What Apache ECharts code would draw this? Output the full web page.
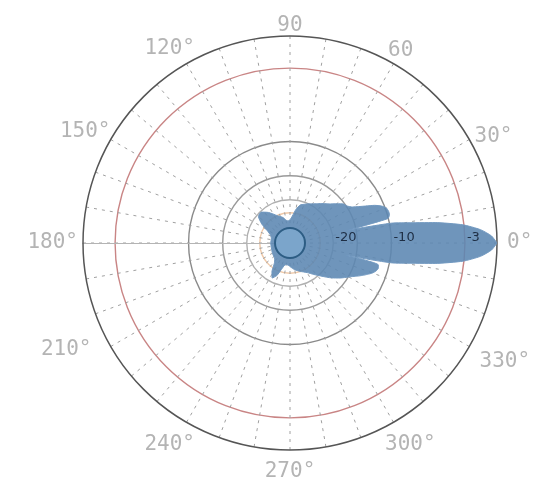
<!DOCTYPE html>
<html>
<head>
<meta charset="utf-8">
<script src="https://cdn.jsdelivr.net/npm/echarts@6/dist/echarts.min.js"></script>
<style>
  html, body { margin: 0; padding: 0; background: #ffffff; }
  #chart { width: 538px; height: 485px; }
</style>
</head>
<body>
<div id="chart"></div>
<script>
// Radiation pattern: bearing (degrees) and relative gain (dB)
const bearings = [0, 2, 4, 6, 8, 10, 11, 12.5, 14, 16, 18, 20, 22, 24, 26, 28, 30, 33, 36, 40, 45, 50, 55, 60, 65, 70, 75, 80, 85, 90, 95, 100, 105, 115, 125, 133, 140, 146, 152, 158, 165, 180, 195, 210, 220, 226, 232, 238, 243, 248, 253, 258, 265, 272, 280, 290, 300, 307, 313, 320, 325, 330, 332, 334, 336, 338, 340, 342, 344, 346, 347.5, 349, 350, 352, 354, 356, 358, 360];
const gainDb = [0, -0.5, -1.5, -3.1, -5.7, -8.6, -9.7, -16.5, -10.1, -9.8, -9.8, -9.9, -10.4, -11.3, -12.5, -13.5, -14.3, -14.9, -15.2, -16.3, -17.5, -18.3, -19.0, -19.6, -20.0, -20.8, -21.5, -23.5, -26.2, -27.7, -28.1, -27.7, -26.5, -25.0, -22.3, -20.4, -20.8, -23.5, -26.9, -28.5, -29.2, -29.2, -29.2, -28.8, -28.5, -28.1, -26.9, -23.5, -21.5, -23.1, -26.5, -28.1, -28.1, -27.3, -26.2, -25.0, -23.5, -21.5, -19.6, -17.7, -16.3, -14.9, -14.4, -13.8, -13.2, -12.6, -12.0, -11.6, -11.4, -11.5, -16.9, -9.7, -8.6, -5.7, -3.1, -1.5, -0.5, 0];

// Reference circles (dB) and the ones that carry a label
const ringLevels = [-25, -20, -15, -10, -3];
const ringLabelLevels = [-20, -10, -3];
const ringLabels = ['-20', '-10', '-3'];
const angleTickLabels = ['0°', '30°', '60', '90', '120°', '150°', '180°', '210°', '240°', '270°', '300°', '330°'];

// Compressed dB scale of the plot: dB knots and their share of the full radius
const scaleKnots = { db: [-40, -30, -20, -15, -10, -3, 0], r: [0, 0.083, 0.209, 0.325, 0.49, 0.845, 1] };
function toR(db) {
  const k = scaleKnots;
  if (db <= k.db[0]) return 0;
  if (db >= 0) return 1;
  for (let i = 1; i < k.db.length; i++) {
    if (db <= k.db[i]) {
      const t = (db - k.db[i - 1]) / (k.db[i] - k.db[i - 1]);
      return k.r[i - 1] + t * (k.r[i] - k.r[i - 1]);
    }
  }
  return 1;
}

const ringR = ringLevels.map(toR);
const labelR = ringLabelLevels.map(toR);
const CENTER = [290, 243];
const RADIUS = 207;

// Per-label padding [top, right, bottom, left] that nudges each bearing label into place
const anglePad = [
  [0, 0, 0, 27], [0, 0, 1, 20], [0, 0, 17, 3], [0, 0, 17, 0],
  [0, 0, 19, 0], [0, 15, 6, 0], [0, 22, 0, 0], [1, 34, 0, 0],
  [27, 0, 0, 0], [28, 0, 0, 0], [27, 0, 0, 0], [13, 0, 0, 25]
];
const angleFont = { color: '#b4b4b4', fontSize: 21, fontFamily: 'DejaVu Sans Mono' };
const angleRich = {};
anglePad.forEach((p, i) => { angleRich['a' + i] = Object.assign({ padding: p }, angleFont); });

const chart = echarts.init(document.getElementById('chart'), null, { renderer: 'canvas' });
const dash = { type: [3, 5], color: '#a0a0a0', width: 1 };

chart.setOption({
  animation: false,
  backgroundColor: '#ffffff',
  polar: [
    { center: CENTER, radius: RADIUS },
    { center: CENTER, radius: RADIUS },
    { center: CENTER, radius: RADIUS }
  ],
  angleAxis: [
    {
      polarIndex: 0, type: 'value', min: 0, max: 360, interval: 30,
      startAngle: 0, clockwise: false,
      axisLine: { lineStyle: { color: '#555555', width: 1.5 } },
      axisTick: { show: false },
      axisLabel: Object.assign({
        margin: -17,
        rich: angleRich,
        formatter: v => {
          const i = Math.round(v / 30);
          return i < angleTickLabels.length ? '{a' + i + '|' + angleTickLabels[i] + '}' : '';
        }
      }, angleFont),
      splitLine: { show: true, lineStyle: dash },
      minorTick: { show: false, splitNumber: 3 },
      minorSplitLine: { show: true, lineStyle: dash }
    },
    { polarIndex: 1, type: 'value', min: 0, max: 360, startAngle: 180, clockwise: false, show: false },
    { polarIndex: 2, type: 'value', min: 0, max: 360, startAngle: 0, clockwise: false, show: false }
  ],
  radiusAxis: [
    {
      polarIndex: 0, type: 'value', min: 0, max: 1,
      axisLine: { show: false },
      axisTick: { show: false, customValues: ringR },
      axisLabel: { show: false },
      splitLine: { show: true, lineStyle: { color: ['#f0c9a8', '#b0b0b0', '#999999', '#8a8a8a', '#c98585'], width: 1.4 } }
    },
    {
      polarIndex: 1, type: 'value', min: 0, max: 1,
      axisLine: { show: true, lineStyle: { color: '#b4b4b4', width: 1.2 } },
      axisTick: { show: false }, axisLabel: { show: false }, splitLine: { show: false }
    },
    {
      polarIndex: 2, type: 'value', min: 0, max: 1, z: 10,
      axisLine: { show: false }, axisTick: { show: false }, splitLine: { show: false },
      axisLabel: {
        customValues: labelR,
        formatter: v => {
          let best = 0;
          labelR.forEach((r, i) => { if (Math.abs(r - v) < Math.abs(labelR[best] - v)) best = i; });
          return ringLabels[best];
        },
        color: '#1e2e44', fontSize: 13, fontFamily: 'DejaVu Sans',
        align: 'left', verticalAlign: 'middle', margin: 5, padding: [0, 0, 0, 2]
      }
    }
  ],
  series: [
    {
      type: 'line', coordinateSystem: 'polar', polarIndex: 0,
      data: gainDb.map((g, i) => [toR(g), bearings[i]]),
      symbol: 'none', smooth: 0.2,
      lineStyle: { color: '#7299c0', width: 1 },
      areaStyle: { color: '#5b86b2', opacity: 0.88 },
      z: 2
    },
    {
      type: 'scatter', coordinateSystem: 'polar', polarIndex: 0,
      data: [[0, 0]], symbolSize: 30,
      itemStyle: { color: '#7ba5cb', borderColor: '#2d5d84', borderWidth: 2, opacity: 1 },
      z: 3
    }
  ]
});
</script>
</body>
</html>
